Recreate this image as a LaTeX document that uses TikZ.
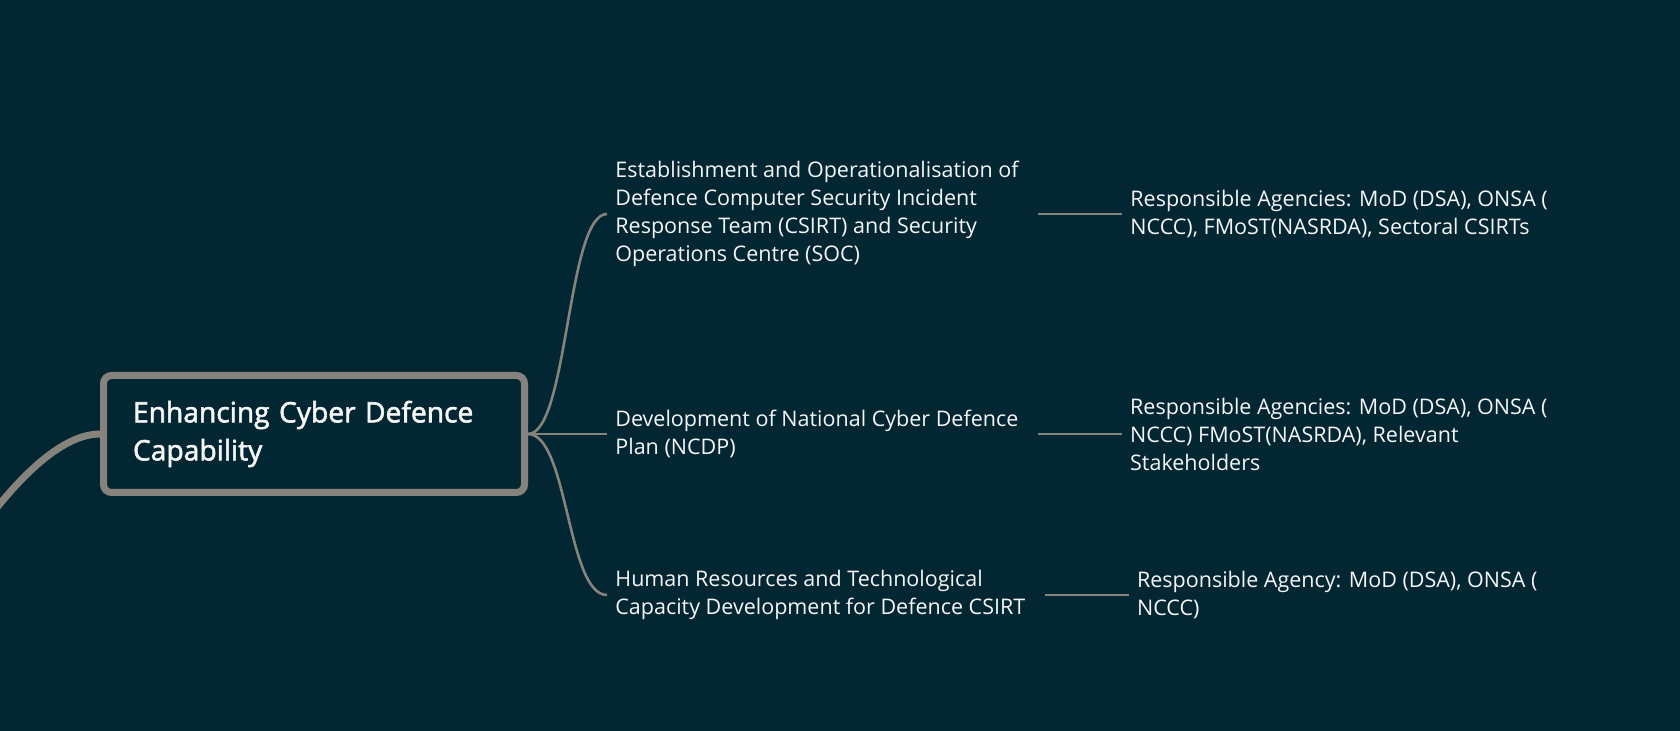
\documentclass[tikz,border=0pt]{standalone}
\usepackage{fontspec}
\setmainfont{Open Sans}
\newfontfamily\titlefont{Open Sans}[FakeBold=2]
\usepackage{tikz}
\usetikzlibrary{positioning}
\definecolor{bgblue}{RGB}{3,38,51}
\definecolor{linegray}{RGB}{134,130,124}
\definecolor{textwhite}{RGB}{246,246,246}
\tikzset {
  % central topic box
  topic/.style = {draw=linegray, line width=3.5pt, rounded corners=4pt, fill=bgblue,
    text=textwhite, text width=181pt, align=left, inner xsep=14.75pt,
    minimum height=58.5pt, font=\titlefont\fontsize{14.1}{19}\selectfont},
  % subtopics and agencies
  sub/.style = {text=textwhite, align=left, inner xsep=4pt, inner ysep=1pt,
    font=\fontsize{10.75}{14}\selectfont},
  % connectors
  branch/.style = {draw=linegray, line width=1.3pt},
  trunk/.style = {draw=linegray, line width=3.5pt},
}

\begin{document}
\begin{tikzpicture}[x=0.5pt, y=-0.5pt]
  \fill[bgblue] (0,0) rectangle (1680,731);
  \useasboundingbox (0,0) rectangle (1680,731);

  \node[topic] (main) at (314,434) {Enhancing Cyber Defence\\Capability};
  \node[sub, anchor=west] (csirt) at (607,214) {Establishment and Operationalisation of\\Defence Computer Security Incident\\Response Team (CSIRT) and Security\\Operations Centre (SOC)};
  \node[sub, anchor=west] (ncdp) at (607,434) {Development of National Cyber Defence\\Plan (NCDP)};
  \node[sub, anchor=west] (hr) at (607,595) {Human Resources and Technological\\Capacity Development for Defence CSIRT};

  \node[sub, right=47.5pt of csirt] (csirtag) {Responsible Agencies: MoD (DSA), ONSA (\\NCCC), FMoST(NASRDA), Sectoral CSIRTs};
  \node[sub, right=47.5pt of ncdp] (ncdpag) {Responsible Agencies: MoD (DSA), ONSA (\\NCCC) FMoST(NASRDA), Relevant\\Stakeholders};
  \node[sub, right=47.5pt of hr] (hrag) {Responsible Agency: MoD (DSA), ONSA (\\NCCC)};

  \coordinate (root) at (-20,530);
  \draw[trunk] (main.west) .. controls +(-45,0) and +(25,-35) .. (root);

  \draw[branch] (main.east) .. controls +(40,0) and +(-40,0) .. (csirt.west);
  \draw[branch] (main.east) -- (ncdp.west);
  \draw[branch] (main.east) .. controls +(40,0) and +(-40,0) .. (hr.west);

  \draw[branch, shorten <=5.5pt] (csirt.east) -- (csirtag.west);
  \draw[branch, shorten <=5.5pt] (ncdp.east) -- (ncdpag.west);
  \draw[branch, shorten <=5.5pt] (hr.east) -- (hrag.west);
\end{tikzpicture}
\end{document}
